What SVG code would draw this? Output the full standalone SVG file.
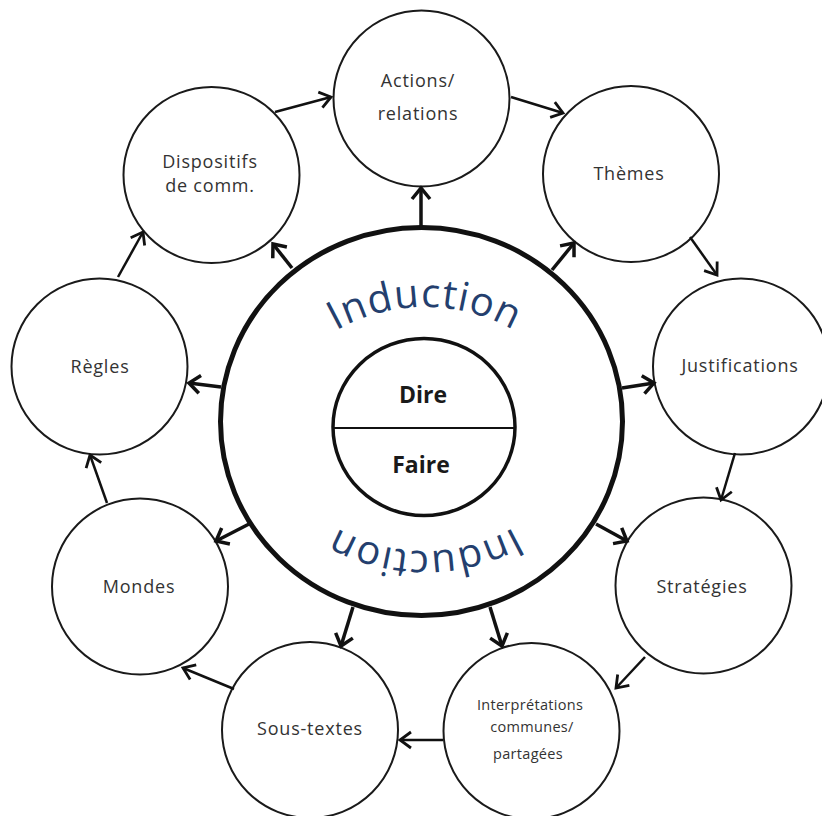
<svg xmlns="http://www.w3.org/2000/svg" width="822" height="816" viewBox="0 0 822 816">
<style>
.node{fill:#fff;stroke:#1a1a1a;stroke-width:2}
.lbl{font-family:"Open Sans","Liberation Sans",sans-serif;font-size:18px;fill:#333;text-anchor:middle;letter-spacing:0.8px}
.small{font-size:14.5px;letter-spacing:0.3px}
.core{font-family:"Open Sans","Liberation Sans",sans-serif;font-size:23px;font-weight:bold;fill:#1a1a1a;text-anchor:middle}
.ind{font-family:"Open Sans","Liberation Sans",sans-serif;font-size:40px;fill:#243f6e;letter-spacing:1px}
.rad{fill:none;stroke:#111;stroke-width:3.5;marker-end:url(#ah)}
.ring{fill:none;stroke:#111;stroke-width:2.5;marker-end:url(#ah2)}
</style>
<defs>
<marker id="ah" markerUnits="userSpaceOnUse" orient="auto" markerWidth="30" markerHeight="30" viewBox="-15 -15 30 30" refX="0" refY="0" overflow="visible">
<path d="M-11,-9 L0,0 L-11,9" fill="none" stroke="#111" stroke-width="3.5" stroke-linejoin="miter"/>
</marker>
<marker id="ah2" markerUnits="userSpaceOnUse" orient="auto" markerWidth="30" markerHeight="30" viewBox="-15 -15 30 30" refX="0" refY="0" overflow="visible">
<path d="M-11,-8 L0,0 L-11,8" fill="none" stroke="#111" stroke-width="2.8" stroke-linejoin="miter"/>
</marker>
<path id="arcTop" d="M245,487 A180,180 0 0,1 605,487"/>
</defs>
<rect width="822" height="816" fill="#fff"/>

<g id="center">
<ellipse cx="421.5" cy="421.5" rx="201" ry="194" fill="#fff" stroke="#111" stroke-width="5"/>
<ellipse cx="424" cy="427" rx="91" ry="88.5" fill="#fff" stroke="#111" stroke-width="3.5"/>
<line x1="333" y1="428" x2="515" y2="428" stroke="#111" stroke-width="2"/>
<text class="core" x="423" y="403">Dire</text>
<text class="core" x="421" y="473">Faire</text>
<text class="ind"><textPath href="#arcTop" startOffset="50%" text-anchor="middle">Induction</textPath></text>
<g transform="rotate(180 425 429)"><text class="ind"><textPath href="#arcTop" startOffset="50%" text-anchor="middle">Induction</textPath></text></g>
</g>

<g id="n-actions"><circle class="node" cx="421.5" cy="98.5" r="88"/><text class="lbl" x="418" y="87">Actions/</text><text class="lbl" x="418" y="120">relations</text></g>
<g id="n-themes"><circle class="node" cx="631" cy="174" r="88"/><text class="lbl" x="629" y="180">Thèmes</text></g>
<g id="n-justifications"><circle class="node" cx="741" cy="366.5" r="88"/><text class="lbl" x="740" y="372">Justifications</text></g>
<g id="n-strategies"><circle class="node" cx="703.5" cy="585.5" r="88"/><text class="lbl" x="702" y="593">Stratégies</text></g>
<g id="n-interpretations"><circle class="node" cx="531.5" cy="731" r="88"/><text class="lbl small" x="530" y="710">Interprétations</text><text class="lbl small" x="532" y="732">communes/</text><text class="lbl small" x="528" y="759">partagées</text></g>
<g id="n-soustextes"><circle class="node" cx="310" cy="730" r="88"/><text class="lbl" x="310" y="735">Sous-textes</text></g>
<g id="n-mondes"><circle class="node" cx="140" cy="586.5" r="88"/><text class="lbl" x="139" y="593">Mondes</text></g>
<g id="n-regles"><circle class="node" cx="99.5" cy="366.5" r="88"/><text class="lbl" x="100" y="373">Règles</text></g>
<g id="n-dispositifs"><circle class="node" cx="211.5" cy="175" r="88"/><text class="lbl" x="210" y="168">Dispositifs</text><text class="lbl" x="210" y="192">de comm.</text></g>

<g id="connectors">
<line class="rad" x1="421" y1="228" x2="421" y2="188"/>
<line class="rad" x1="552" y1="270" x2="574" y2="243"/>
<line class="rad" x1="622" y1="388" x2="654" y2="383"/>
<line class="rad" x1="596" y1="524" x2="627" y2="541"/>
<line class="rad" x1="490" y1="607" x2="502" y2="646"/>
<line class="rad" x1="353" y1="607" x2="341" y2="646"/>
<line class="rad" x1="251" y1="523" x2="216" y2="541"/>
<line class="rad" x1="221" y1="387" x2="189" y2="383"/>
<line class="rad" x1="292" y1="268" x2="273" y2="244"/>
<line class="ring" x1="275" y1="112" x2="331" y2="97"/>
<line class="ring" x1="511" y1="97" x2="563" y2="113"/>
<line class="ring" x1="690" y1="237" x2="717" y2="275"/>
<line class="ring" x1="735" y1="453" x2="721" y2="500"/>
<line class="ring" x1="645" y1="657" x2="616" y2="688"/>
<line class="ring" x1="443" y1="740" x2="400" y2="740"/>
<line class="ring" x1="234" y1="689" x2="183" y2="668"/>
<line class="ring" x1="107" y1="503" x2="90" y2="455"/>
<line class="ring" x1="118" y1="277" x2="143" y2="232"/>
</g>
</svg>
